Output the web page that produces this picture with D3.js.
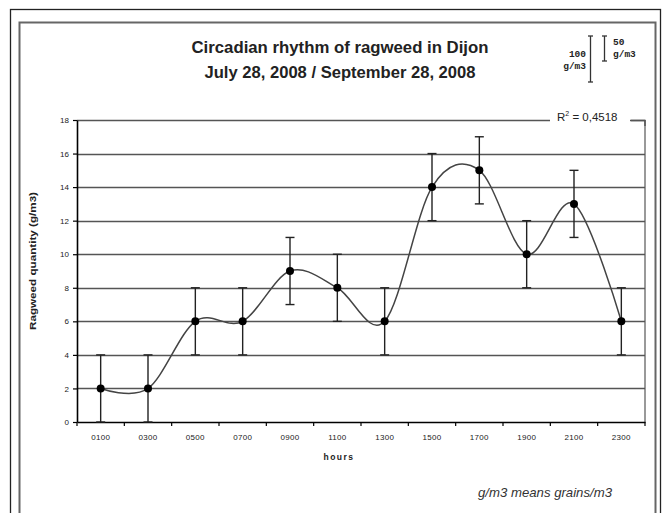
<!DOCTYPE html>
<html>
<head>
<meta charset="utf-8">
<script src="https://cdn.jsdelivr.net/npm/d3@7"></script>
<style>
  html, body { margin: 0; padding: 0; background: #fff; }
  svg { display: block; }
</style>
</head>
<body>
<svg id="chart" width="662" height="513"></svg>
<script>
// ---- data ----
const categories = ["0100","0300","0500","0700","0900","1100","1300","1500","1700","1900","2100","2300"];
const values     = [2, 2, 6, 6, 9, 8, 6, 14, 15, 10, 13, 6];
const errors     = [2, 2, 2, 2, 2, 2, 2, 2, 2, 2, 2, 2];
const yTicks     = [0, 2, 4, 6, 8, 10, 12, 14, 16, 18];
const titleLines = ["Circadian rhythm of ragweed in Dijon", "July 28, 2008 / September 28, 2008"];
const r2Label    = "0,4518";

const svg = d3.select("#chart");
const W = 662, H = 513;
const plot = { left: 77, right: 645, top: 120, bottom: 422 };

// frames
svg.append("rect").attr("x", 10.5).attr("y", 9.5).attr("width", 650).attr("height", 540)
  .attr("fill", "none").attr("stroke", "#222").attr("stroke-width", 1.3);
svg.append("rect").attr("x", 19.5).attr("y", 22.5).attr("width", 636).attr("height", 530)
  .attr("fill", "none").attr("stroke", "#666").attr("stroke-width", 2);

// scales
const x = d3.scaleBand().domain(categories).range([plot.left, plot.right]);
const y = d3.scaleLinear().domain([0, 18]).range([plot.bottom, plot.top]);
const cx = c => x(c) + x.bandwidth() / 2;

// plot area right border
svg.append("line").attr("x1", plot.right).attr("x2", plot.right)
  .attr("y1", plot.top).attr("y2", plot.bottom)
  .attr("stroke", "#777").attr("stroke-width", 1.5);

// gridlines
svg.append("g").selectAll("line").data(yTicks.filter(d => d > 0)).join("line")
  .attr("x1", plot.left).attr("x2", plot.right)
  .attr("y1", d => Math.round(y(d)) + 0.5).attr("y2", d => Math.round(y(d)) + 0.5)
  .attr("stroke", "#555").attr("stroke-width", 1.6);

// y axis
const yAxis = svg.append("g").attr("transform", `translate(${plot.left},0)`)
  .call(d3.axisLeft(y).tickValues(yTicks).tickSize(4).tickPadding(4).tickSizeOuter(0));
yAxis.select(".domain").attr("stroke", "#000").attr("stroke-width", 1.6);
yAxis.selectAll(".tick line").attr("stroke", "#000").attr("stroke-width", 1.2);
yAxis.selectAll(".tick text").attr("font-family", "Liberation Sans, Arial, sans-serif")
  .attr("font-size", 8).attr("fill", "#222");

// x axis
const xAxis = svg.append("g").attr("transform", `translate(0,${plot.bottom})`)
  .call(d3.axisBottom(x).tickSize(0).tickPadding(12).tickSizeOuter(0));
xAxis.select(".domain").attr("stroke", "#000").attr("stroke-width", 1.6);
xAxis.selectAll(".tick text").attr("font-family", "Liberation Sans, Arial, sans-serif")
  .attr("font-size", 8).attr("fill", "#222").attr("letter-spacing", "0.3px");
// tick marks between categories
const bounds = categories.map(c => x(c)).concat([x.range()[1]]);
svg.append("g").selectAll("line").data(bounds).join("line")
  .attr("x1", d => d).attr("x2", d => d)
  .attr("y1", plot.bottom).attr("y2", plot.bottom + 4)
  .attr("stroke", "#000").attr("stroke-width", 1.2);

// error bars
const eb = svg.append("g").attr("stroke", "#222").attr("stroke-width", 1.4);
categories.forEach((c, i) => {
  const xc = cx(c);
  const hi = y(values[i] + errors[i]), lo = y(values[i] - errors[i]);
  eb.append("line").attr("x1", xc).attr("x2", xc).attr("y1", hi).attr("y2", lo);
  eb.append("line").attr("x1", xc - 4.5).attr("x2", xc + 4.5).attr("y1", hi).attr("y2", hi);
  eb.append("line").attr("x1", xc - 4.5).attr("x2", xc + 4.5).attr("y1", lo).attr("y2", lo);
});

// smoothed line
const pts = categories.map((c, i) => [cx(c), y(values[i])]);
svg.append("path").datum(pts)
  .attr("d", d3.line().curve(d3.curveCatmullRom.alpha(0)))
  .attr("fill", "none").attr("stroke", "#444").attr("stroke-width", 1.5);

// points
svg.append("g").selectAll("circle").data(pts).join("circle")
  .attr("cx", d => d[0]).attr("cy", d => d[1]).attr("r", 4)
  .attr("fill", "#000");

// R^2 label with white background over top gridline
svg.append("rect").attr("x", 550).attr("y", 108).attr("width", 80).attr("height", 18).attr("fill", "#fff");
const r2 = svg.append("text").attr("x", 557).attr("y", 121)
  .attr("font-family", "Liberation Sans, Arial, sans-serif").attr("font-size", 11.5).attr("fill", "#222");
r2.append("tspan").text("R");
r2.append("tspan").attr("font-size", 7).attr("dy", -5).text("2");
r2.append("tspan").attr("dy", 5).text(" = " + r2Label);
svg.append("path").attr("d", `M631,${Math.round(y(18)) + 0.5}H${plot.right}V${plot.top + 6}`)
  .attr("fill", "none").attr("stroke", "#555").attr("stroke-width", 1.5);

// title
svg.append("g").selectAll("text").data(titleLines).join("text")
  .attr("x", 340).attr("y", (d, i) => 53 + i * 25)
  .attr("text-anchor", "middle")
  .attr("font-family", "Liberation Sans, Arial, sans-serif")
  .attr("font-weight", "bold").attr("font-size", 16.5).attr("fill", "#222")
  .attr("textLength", (d, i) => i === 0 ? 297 : 271)
  .attr("lengthAdjust", "spacingAndGlyphs")
  .text(d => d);

// scale legend (top right)
const lg = svg.append("g").attr("stroke", "#333").attr("stroke-width", 1.3);
[[590.5, 36, 82], [604.5, 36, 61]].forEach(([lx, y1, y2]) => {
  lg.append("line").attr("x1", lx).attr("x2", lx).attr("y1", y1).attr("y2", y2);
  lg.append("line").attr("x1", lx - 2.5).attr("x2", lx + 2.5).attr("y1", y1).attr("y2", y1);
  lg.append("line").attr("x1", lx - 2.5).attr("x2", lx + 2.5).attr("y1", y2).attr("y2", y2);
});
const lgText = [
  ["100", 586, 57, "end"], ["g/m3", 586, 69, "end"],
  ["50", 613, 45, "start"], ["g/m3", 613, 57, "start"]
];
svg.append("g").selectAll("text").data(lgText).join("text")
  .attr("x", d => d[1]).attr("y", d => d[2]).attr("text-anchor", d => d[3])
  .attr("font-family", "Liberation Mono, Courier New, monospace")
  .attr("font-weight", "bold").attr("font-size", 9.5).attr("fill", "#222")
  .text(d => d[0]);

// y axis title
svg.append("text")
  .attr("transform", "translate(36,261) rotate(-90)")
  .attr("text-anchor", "middle")
  .attr("font-family", "Liberation Sans, Arial, sans-serif")
  .attr("font-weight", "bold").attr("font-size", 8.5).attr("fill", "#222")
  .attr("textLength", 138).attr("lengthAdjust", "spacingAndGlyphs")
  .text("Ragweed quantity (g/m3)");

// x axis title
svg.append("text").attr("x", 339).attr("y", 460).attr("text-anchor", "middle")
  .attr("font-family", "Liberation Sans, Arial, sans-serif")
  .attr("font-size", 8.5).attr("font-weight", "bold").attr("fill", "#222")
  .attr("letter-spacing", "1.5px")
  .text("hours");

// footnote
svg.append("text").attr("x", 612).attr("y", 497).attr("text-anchor", "end")
  .attr("font-family", "Liberation Sans, Arial, sans-serif")
  .attr("font-style", "italic").attr("font-size", 13.5).attr("fill", "#333")
  .attr("textLength", 134).attr("lengthAdjust", "spacingAndGlyphs")
  .text("g/m3 means grains/m3");
</script>
</body>
</html>
